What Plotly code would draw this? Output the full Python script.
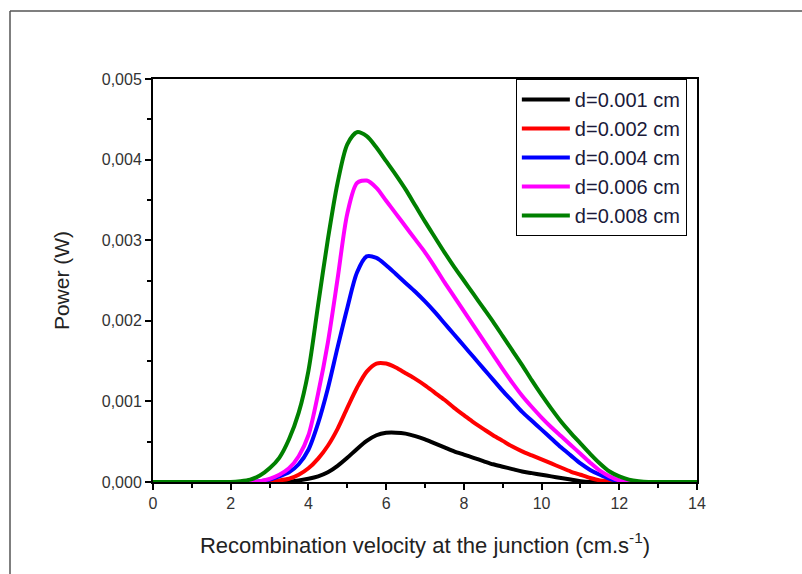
import plotly.graph_objects as go

# Recombination velocity grid (cm.s-1)
velocity = [0.0, 0.5, 1.0, 1.5, 2.0, 2.25, 2.5, 2.75, 3.0, 3.25, 3.5, 3.75, 4.0, 4.25, 4.5, 4.75,
            5.0, 5.25, 5.5, 5.75, 6.0, 6.25, 6.5, 6.75, 7.0, 7.25, 7.5, 7.75, 8.0, 8.25, 8.5, 8.75,
            9.0, 9.25, 9.5, 9.75, 10.0, 10.25, 10.5, 10.75, 11.0, 11.25, 11.5, 11.75, 12.0, 12.25,
            12.5, 12.75, 13.0, 13.5, 14.0]

# Power (W) for each thickness d
p_d001 = [0, 0, 0, 0, 0, 0, 0, 0, 0, 0, 0.000005, 0.00002, 0.00004, 0.00007, 0.00012, 0.0002,
          0.0003, 0.00041, 0.00051, 0.00058, 0.00061, 0.000612, 0.0006, 0.00057, 0.00053, 0.00048,
          0.00043, 0.00038, 0.00034, 0.0003, 0.00026, 0.00022, 0.00019, 0.00016, 0.00013, 0.00011,
          0.00009, 0.00007, 0.00005, 0.00003, 0.00001, 0, 0, 0, 0, 0, 0, 0, 0, 0, 0]
p_d002 = [0, 0, 0, 0, 0, 0, 0, 0, 0.00001, 0.00002, 0.00004, 0.00009, 0.00017, 0.00029, 0.00045,
          0.00066, 0.00092, 0.00117, 0.00137, 0.00147, 0.00147, 0.00142, 0.00135, 0.00128, 0.00120,
          0.00111, 0.00102, 0.00092, 0.00083, 0.00074, 0.00066, 0.00058, 0.00051, 0.00044, 0.00038,
          0.00033, 0.00028, 0.00023, 0.00018, 0.00013, 0.00009, 0.00005, 0.00002, 0.00001, 0, 0,
          0, 0, 0, 0, 0]
p_d004 = [0, 0, 0, 0, 0, 0, 0, 0.00001, 0.00003, 0.00007, 0.00012, 0.00022, 0.0004, 0.00073,
          0.00116, 0.00167, 0.00216, 0.0026, 0.0028, 0.00278, 0.00269, 0.00258, 0.00247, 0.00236,
          0.00224, 0.00211, 0.00197, 0.00183, 0.00169, 0.00155, 0.00141, 0.00127, 0.00113, 0.001,
          0.00087, 0.00076, 0.00065, 0.00054, 0.00043, 0.00033, 0.00023, 0.00015, 0.00009, 0.00004,
          0.00001, 0, 0, 0, 0, 0, 0]
p_d006 = [0, 0, 0, 0, 0, 0, 0, 0.00001, 0.00004, 0.00009, 0.00017, 0.00032, 0.00058, 0.0011,
          0.00173, 0.00252, 0.00333, 0.00371, 0.00374, 0.00365, 0.00349, 0.00333, 0.00317, 0.00301,
          0.00285, 0.00267, 0.00248, 0.0023, 0.00212, 0.00194, 0.00176, 0.00158, 0.0014, 0.00123,
          0.00107, 0.00093, 0.0008, 0.00068, 0.00057, 0.00046, 0.00035, 0.00024, 0.00014, 0.00007,
          0.00002, 0, 0, 0, 0, 0, 0]
p_d008 = [0, 0, 0, 0, 0, 0.00001, 0.00003, 0.00008, 0.00017, 0.0003, 0.00053, 0.00086, 0.00138,
          0.0022, 0.00301, 0.00371, 0.00419, 0.00434, 0.00429, 0.00415, 0.00398, 0.00381, 0.00363,
          0.00343, 0.00323, 0.00304, 0.00285, 0.00267, 0.0025, 0.00233, 0.00216, 0.00199, 0.00181,
          0.00163, 0.00145, 0.00126, 0.00108, 0.00091, 0.00075, 0.00061, 0.00048, 0.00035, 0.00023,
          0.00013, 0.00007, 0.00003, 0.00001, 0, 0, 0, 0]

series_names = ["d=0.001 cm", "d=0.002 cm", "d=0.004 cm", "d=0.006 cm", "d=0.008 cm"]
series_values = [p_d001, p_d002, p_d004, p_d006, p_d008]
series_colors = ["#000000", "#ff0000", "#0000ff", "#ff00ff", "#008000"]

x_ticks = [0, 2, 4, 6, 8, 10, 12, 14]
y_ticks = [0.0, 0.001, 0.002, 0.003, 0.004, 0.005]
y_tick_text = ["0,000", "0,001", "0,002", "0,003", "0,004", "0,005"]

fig = go.Figure()
for name, vals, col in zip(series_names, series_values, series_colors):
    fig.add_trace(go.Scatter(
        x=velocity, y=vals, name=name, mode="lines",
        line=dict(color=col, width=4, shape="spline", smoothing=0.8),
    ))

FONT = "Liberation Sans, Arial, sans-serif"
tick_font = dict(family=FONT, size=16, color="#333333")

fig.update_layout(
    width=802, height=574,
    margin=dict(l=153, r=105, t=79, b=92),
    paper_bgcolor="white", plot_bgcolor="white",
    font=dict(family=FONT, color="#222222"),
    showlegend=True,
    legend=dict(
        x=0.667, y=1.0, xanchor="left", yanchor="top",
        bgcolor="white", bordercolor="#000000", borderwidth=1,
        font=dict(family=FONT, size=20, color="#1a1a3a"),
        itemwidth=48, tracegroupgap=0,
    ),
    xaxis=dict(
        range=[0, 14], tickvals=x_ticks, ticktext=[str(v) for v in x_ticks],
        showgrid=False, zeroline=False,
        showline=True, linecolor="black", linewidth=2, mirror=True,
        ticks="outside", ticklen=6, tickwidth=2, tickcolor="black",
        minor=dict(ticks="outside", ticklen=4, tickwidth=2, dtick=1, tickcolor="black"),
        tickfont=tick_font,
        title=dict(text="Recombination velocity at the junction (cm.s<sup>-1</sup>)",
                   font=dict(family=FONT, size=22, color="#222222"), standoff=26),
    ),
    yaxis=dict(
        range=[0, 0.005], tickvals=y_ticks, ticktext=y_tick_text,
        showgrid=False, zeroline=False,
        showline=True, linecolor="black", linewidth=2, mirror=True,
        ticks="outside", ticklen=6, tickwidth=2, tickcolor="black",
        minor=dict(ticks="outside", ticklen=4, tickwidth=2, dtick=0.0005, tickcolor="black"),
        tickfont=tick_font,
        title=dict(text="Power (W)", font=dict(family=FONT, size=21, color="#222222"),
                   standoff=26),
    ),
    xaxis2=dict(
        overlaying="x", side="top", range=[0, 14], tickvals=x_ticks,
        showticklabels=False, showgrid=False, zeroline=False,
        ticks="inside", ticklen=5, tickwidth=2, tickcolor="black",
        minor=dict(ticks="inside", ticklen=3, tickwidth=2, dtick=1, tickcolor="black"),
    ),
    yaxis2=dict(
        overlaying="y", side="right", range=[0, 0.005], tickvals=y_ticks,
        showticklabels=False, showgrid=False, zeroline=False,
        ticks="inside", ticklen=5, tickwidth=2, tickcolor="black",
        minor=dict(ticks="inside", ticklen=3, tickwidth=2, dtick=0.0005, tickcolor="black"),
    ),
)

# Outer frame of the figure (left and top edges)
frame_x = (10 - 153) / 544
frame_y = (482 - 11) / 403
fig.add_shape(type="line", xref="paper", yref="paper", x0=frame_x, x1=frame_x,
              y0=-0.4, y1=frame_y, line=dict(color="#555555", width=1.5))
fig.add_shape(type="line", xref="paper", yref="paper", x0=frame_x, x1=1.4,
              y0=frame_y, y1=frame_y, line=dict(color="#555555", width=1.5))

fig.write_html("out.html")
